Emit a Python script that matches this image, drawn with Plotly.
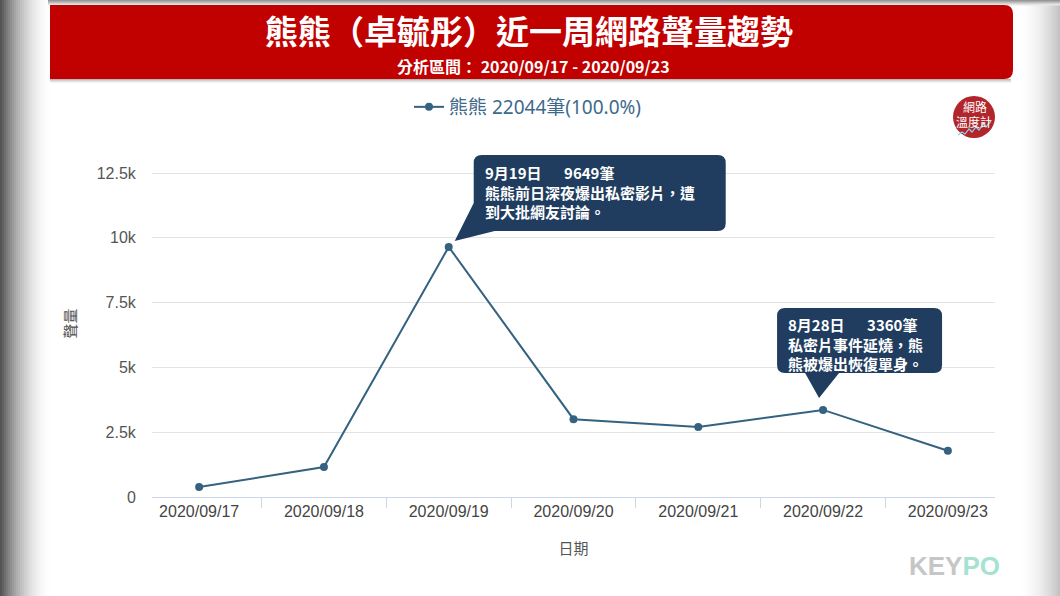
import plotly.graph_objects as go

# ---------------- data ----------------
dates = ["2020/09/17", "2020/09/18", "2020/09/19", "2020/09/20",
         "2020/09/21", "2020/09/22", "2020/09/23"]
volumes = [382, 1158, 9649, 3003, 2705, 3360, 1787]
series_name = "熊熊"
y_tickvals = [0, 2500, 5000, 7500, 10000, 12500]
y_ticktext = ["0", "2.5k", "5k", "7.5k", "10k", "12.5k"]
title_text = "熊熊（卓毓彤）近一周網路聲量趨勢"
subtitle_text = "分析區間： 2020/09/17 - 2020/09/23"
note1_text = "<b>9月19日\u3000\u20029649筆<br>熊熊前日深夜爆出私密影片，遭<br>到大批網友討論。</b>"
note2_text = "<b>8月28日\u3000\u20023360筆<br>私密片事件延燒，熊<br>熊被爆出恢復單身。</b>"
note1_at = 2
note2_at = 5

# ---------------- geometry (pixels) ----------------
FW, FH = 1060, 596
L, R, T, B = 152, 995, 150, 497      # plot area (top padded above the 12.5k line)
Y_TOP_LINE = 173                      # pixel row of the 12.5k gridline
W, H = R - L, B - T
y_max = y_tickvals[-1] * (B - T) / (B - Y_TOP_LINE)


def px(x):
    return (x - L) / W


def py(y):
    return (B - y) / H


LINE = "#346280"
NAVY = "#203d60"
CJK = "Noto Sans CJK TC"

fig = go.Figure()
total = sum(volumes)
fig.add_trace(go.Scatter(
    x=dates, y=volumes, mode="lines+markers",
    name=f"{series_name} {total}筆(100.0%)",
    line=dict(color=LINE, width=2),
    marker=dict(color=LINE, size=8),
    hoverinfo="skip",
))

shapes = []


def lerp(a, b, t):
    return int(round(a + (b - a) * t))


# page edge gradients (screen-capture look), eased to avoid a visible edge
for i in range(0, 52, 2):
    t = min(i / 52, 1.0)
    g = lerp(85, 255, 1 - (1 - t) ** 2)
    shapes.append(dict(type="rect", xref="paper", yref="paper",
                       x0=px(i), x1=px(i + 3), y0=py(FH), y1=py(0),
                       fillcolor=f"rgb({g},{g},{g})", line_width=0, layer="below"))
for i in range(0, 42, 2):
    t = i / 42
    g = lerp(195, 255, 1 - (1 - t) ** 2)
    shapes.append(dict(type="rect", xref="paper", yref="paper",
                       x0=px(FW - i - 3), x1=px(FW - i), y0=py(FH), y1=py(0),
                       fillcolor=f"rgb({g},{g},{g})", line_width=0, layer="below"))
for i in range(0, 5):
    g = lerp(150, 250, i / 5)
    shapes.append(dict(type="rect", xref="paper", yref="paper",
                       x0=px(48), x1=px(FW), y0=py(i + 1.5), y1=py(i),
                       fillcolor=f"rgb({g},{g},{g})", line_width=0, layer="below"))

# header shadow
for k, op in enumerate([0.28, 0.18, 0.10, 0.05]):
    shapes.append(dict(type="rect", xref="paper", yref="paper",
                       x0=px(50), x1=px(1011), y0=py(79 + k + 1), y1=py(79 + k),
                       fillcolor=f"rgba(0,0,0,{op})", line_width=0, layer="below"))

# red header with rounded right corners
hx0, hx1, hy0, hy1, rr = 50, 1013, 5, 79, 9
hp = (f"M{px(hx0)},{py(hy0)} L{px(hx1 - rr)},{py(hy0)} "
      f"Q{px(hx1)},{py(hy0)} {px(hx1)},{py(hy0 + rr)} "
      f"L{px(hx1)},{py(hy1 - rr)} Q{px(hx1)},{py(hy1)} {px(hx1 - rr)},{py(hy1)} "
      f"L{px(hx0)},{py(hy1)} Z")
shapes.append(dict(type="path", xref="paper", yref="paper", path=hp,
                   fillcolor="#c10000", line_width=0, layer="below"))

# logo circle
shapes.append(dict(type="circle", xref="paper", yref="paper",
                   x0=px(953), x1=px(995), y0=py(138), y1=py(96),
                   fillcolor="#b1252b", line_width=0, layer="below"))
wave = [(958, 135), (962, 132), (965, 134), (969, 129), (972, 132), (976, 127),
        (979, 130), (983, 124), (986, 127), (991, 121)]
wp = "M" + " L".join(f"{px(a)},{py(b)}" for a, b in wave)
shapes.append(dict(type="path", xref="paper", yref="paper", path=wp,
                   line=dict(color="#8fd0ee", width=1.2), layer="below"))


def callout(cat, val, left, right, top, bottom, tail, r=8):
    # pixel offsets relative to the data point, y positive upward
    pts = [f"M{left + r},{top}", f"L{right - r},{top}",
           f"Q{right},{top} {right},{top - r}",
           f"L{right},{bottom + r}", f"Q{right},{bottom} {right - r},{bottom}"]
    pts += tail
    pts.append("Z")
    return dict(type="path", xref="x", yref="y", xsizemode="pixel", ysizemode="pixel",
                xanchor=cat, yanchor=val, path=" ".join(pts),
                fillcolor=NAVY, line_width=0, layer="above")


# callout 1 (tail towards the lower-left)
c1 = callout(dates[note1_at], volumes[note1_at], 25, 277, 92, 16,
             ["L46,16", "L6,6", "L25,44", "L25,84", "Q25,92 33,92"])
# callout 2 (tail pointing down)
c2 = callout(dates[note2_at], volumes[note2_at], -46, 119, 102, 37,
             ["L16,37", "L-4,12", "L-18,37", "L-38,37", "Q-46,37 -46,45",
              "L-46,94", "Q-46,102 -38,102"])
shapes += [c1, c2]

annotations = [
    dict(text=f"<b>{title_text}</b>", xref="paper", yref="paper",
         x=px(529), y=py(30), xanchor="center", yanchor="middle", showarrow=False,
         font=dict(family=CJK, size=33, color="white")),
    dict(text=f"<b>{subtitle_text}</b>", xref="paper", yref="paper",
         x=px(533), y=py(66), xanchor="center", yanchor="middle", showarrow=False,
         font=dict(family=CJK, size=16, color="white")),
    dict(text="網路", xref="paper", yref="paper",
         x=px(975), y=py(106), xanchor="center", yanchor="middle", showarrow=False,
         font=dict(family=CJK, size=12, color="white")),
    dict(text="溫度計", xref="paper", yref="paper",
         x=px(974), y=py(122), xanchor="center", yanchor="middle", showarrow=False,
         font=dict(family=CJK, size=12, color="white")),
    dict(text=note1_text, x=dates[note1_at], y=volumes[note1_at], xref="x", yref="y",
         xanchor="left", yanchor="top", align="left", showarrow=False,
         xshift=34, yshift=87, font=dict(family=CJK, size=15, color="white")),
    dict(text=note2_text, x=dates[note2_at], y=volumes[note2_at], xref="x", yref="y",
         xanchor="left", yanchor="top", align="left", showarrow=False,
         xshift=-37, yshift=98, font=dict(family=CJK, size=15, color="white")),
    dict(text='<b><span style="color:#c6c6c6">KEY</span><span style="color:#a6e2d0">PO</span></b>',
         xref="paper", yref="paper", x=px(954), y=py(566), xanchor="center", yanchor="middle",
         showarrow=False, font=dict(family="Liberation Sans", size=26)),
]

fig.update_layout(
    width=FW, height=FH,
    margin=dict(l=L, r=FW - R, t=T, b=FH - B),
    paper_bgcolor="white", plot_bgcolor="rgba(0,0,0,0)",
    showlegend=True,
    legend=dict(orientation="h", xref="container", yref="container",
                x=528 / FW, y=1 - 107 / FH, xanchor="center", yanchor="middle",
                font=dict(family="Noto Sans, " + CJK, size=19, color="#3d6a8b"),
                bgcolor="rgba(0,0,0,0)"),
    shapes=shapes, annotations=annotations,
    hovermode=False,
)
fig.update_xaxes(
    type="category", categoryorder="array", categoryarray=dates,
    showgrid=False, showline=True, linecolor="#ccd6eb", linewidth=1,
    ticks="outside", tickson="boundaries", ticklen=10, tickcolor="#ccd6eb",
    tickfont=dict(family="Liberation Sans", size=16, color="#444"),
    title=dict(text="日期", font=dict(family=CJK, size=15, color="#555"), standoff=24),
    fixedrange=True,
)
fig.update_yaxes(
    range=[0, y_max], tickvals=y_tickvals, ticktext=y_ticktext,
    showgrid=True, gridcolor="#e3e3e3", gridwidth=1, zeroline=False, showline=False,
    ticks="outside", ticklen=12, tickcolor="rgba(0,0,0,0)",
    tickfont=dict(family="Liberation Sans", size=16, color="#555"),
    title=dict(text="聲量", font=dict(family=CJK, size=15, color="#555"), standoff=16),
    fixedrange=True,
)

fig.write_html("out.html", config={"displayModeBar": False},
               post_script="document.body.style.margin='0';document.body.style.overflow='hidden';")
